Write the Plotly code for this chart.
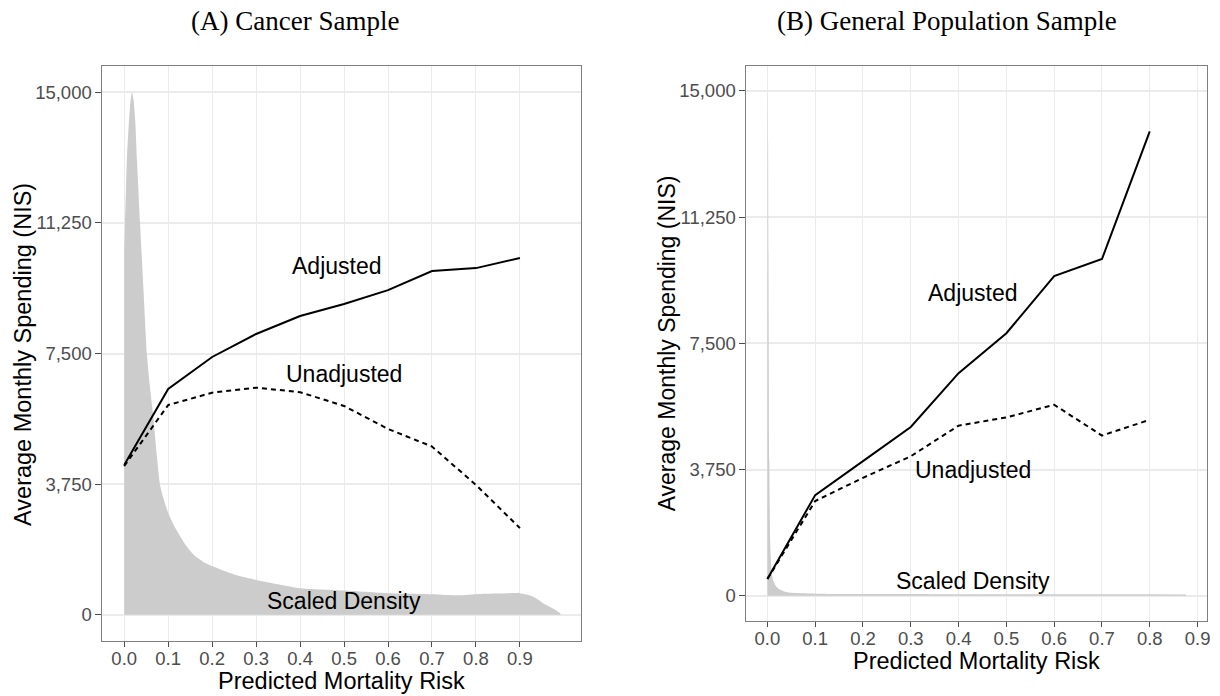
import plotly.graph_objects as go

# ---- data -------------------------------------------------------------
risk_a = [0.0, 0.1, 0.2, 0.3, 0.4, 0.5, 0.6, 0.7, 0.8, 0.9]
adjusted_a = [4300, 6480, 7400, 8060, 8575, 8920, 9320, 9865, 9950, 10240]
unadjusted_a = [4270, 6020, 6375, 6520, 6390, 5995, 5335, 4830, 3730, 2490]

risk_b = [0.0, 0.1, 0.2, 0.3, 0.4, 0.5, 0.6, 0.7, 0.8]
adjusted_b = [495, 2990, 4000, 5015, 6615, 7800, 9500, 10005, 13800]
unadjusted_b = [495, 2815, 3505, 4145, 5055, 5300, 5675, 4760, 5230]

# scaled kernel density of predicted risk (peak rescaled to 15,000)
dens_a_x = [0.0, 0.002, 0.006, 0.01, 0.014, 0.0175, 0.021, 0.025, 0.029, 0.036,
            0.044, 0.0515, 0.058, 0.066, 0.074, 0.081, 0.09, 0.1, 0.115, 0.13,
            0.14, 0.16, 0.18, 0.2, 0.225, 0.25, 0.3, 0.35, 0.4, 0.5, 0.6, 0.7,
            0.76, 0.8, 0.85, 0.9, 0.929, 0.959, 0.975, 0.992]
dens_a_y = [10500, 11250, 13050, 14000, 14700, 15000, 14800, 14200, 13050, 11250,
            9300, 7500, 6600, 5690, 4600, 3760, 3300, 2925, 2520, 2200,
            2000, 1700, 1520, 1400, 1270, 1160, 1004, 880, 765, 697, 622, 593,
            560, 593, 610, 620, 526, 287, 180, 49]

dens_b_x = [0.0, 0.0008, 0.0015, 0.0025, 0.004, 0.006, 0.009, 0.012, 0.018,
            0.025, 0.035, 0.045, 0.06, 0.1, 0.2, 0.4, 0.6, 0.8, 0.876]
dens_b_y = [9000, 15000, 13500, 9000, 4000, 1500, 700, 450, 280,
            190, 130, 100, 80, 60, 50, 45, 45, 42, 40]

x_ticks = [0.0, 0.1, 0.2, 0.3, 0.4, 0.5, 0.6, 0.7, 0.8, 0.9]
x_tick_text = ["0.0", "0.1", "0.2", "0.3", "0.4", "0.5", "0.6", "0.7", "0.8", "0.9"]
y_ticks = [0, 3750, 7500, 11250, 15000]
y_tick_text = ["0", "3,750", "7,500", "11,250", "15,000"]

# ---- figure -----------------------------------------------------------
W, H = 1220, 696
SANS = "Liberation Sans, Arial, sans-serif"
SERIF = "Liberation Serif, Times New Roman, serif"
GRID = "#ebebeb"
BORDER = "#7f7f7f"
DENS = "#cccccc"

fig = go.Figure()

def add_panel(xa, ya, dx, dy, rx, adj, unadj):
    fig.add_trace(go.Scatter(x=dx, y=dy, xaxis=xa, yaxis=ya, mode="lines",
                             line=dict(width=0, color=DENS, shape="spline",
                                       smoothing=0.6),
                             fill="tozeroy", fillcolor=DENS,
                             hoverinfo="skip", showlegend=False))
    fig.add_trace(go.Scatter(x=rx, y=unadj, xaxis=xa, yaxis=ya, mode="lines",
                             line=dict(color="black", width=2, dash="5px,4px"),
                             showlegend=False))
    fig.add_trace(go.Scatter(x=rx, y=adj, xaxis=xa, yaxis=ya, mode="lines",
                             line=dict(color="black", width=2),
                             showlegend=False))

add_panel("x", "y", dens_a_x, dens_a_y, risk_a, adjusted_a, unadjusted_a)
add_panel("x2", "y2", dens_b_x, dens_b_y, risk_b, adjusted_b, unadjusted_b)

def px_x(p):
    return p / W

def px_y(p):
    return 1 - p / H

axis_common = dict(
    showgrid=True, gridcolor=GRID, zeroline=False,
    showline=True, mirror=True, linecolor=BORDER, linewidth=1,
    ticks="outside", tickcolor="#4d4d4d", tickwidth=1,
    tickfont=dict(family=SANS, size=18.5, color="#4d4d4d"),
)

xa_common = dict(axis_common, tickvals=x_ticks, ticktext=x_tick_text,
                 ticklen=5, gridwidth=1, ticklabelstandoff=-4)
ya_common = dict(axis_common, tickvals=y_ticks, ticktext=y_tick_text,
                 ticklen=6, gridwidth=1.5, range=[-750, 15750])

fig.update_layout(
    width=W, height=H,
    margin=dict(l=0, r=0, t=0, b=0),
    paper_bgcolor="white", plot_bgcolor="white",
    showlegend=False,
    xaxis=dict(xa_common, domain=[px_x(102.7), px_x(582.7)],
               range=[-0.0495, 1.0395], anchor="y"),
    yaxis=dict(ya_common, domain=[px_y(641), px_y(66)], anchor="x"),
    xaxis2=dict(xa_common, domain=[px_x(748.3), px_x(1210)],
                range=[-0.0438, 0.9198], anchor="y2"),
    yaxis2=dict(ya_common, domain=[px_y(621), px_y(65.7)], anchor="x2"),
)

ann = []

def label(text, x, y, xref, yref, size, family=SANS, angle=0, color="black"):
    ann.append(dict(text=text, x=x, y=y, xref=xref, yref=yref, showarrow=False,
                    xanchor="center", yanchor="middle", textangle=angle,
                    font=dict(family=family, size=size, color=color)))

# curve labels
label("Adjusted", 0.485, 10000, "x", "y", 23)
label("Unadjusted", 0.50, 6900, "x", "y", 23)
label("Scaled Density", 0.50, 400, "x", "y", 23)
label("Adjusted", 0.43, 9000, "x2", "y2", 23)
label("Unadjusted", 0.43, 3750, "x2", "y2", 23)
label("Scaled Density", 0.43, 430, "x2", "y2", 23)

# axis titles
label("Predicted Mortality Risk", px_x(342.7), px_y(681), "paper", "paper", 23.5)
label("Predicted Mortality Risk", px_x(979.2), px_y(661), "paper", "paper", 23.5)
label("Average Monthly Spending (NIS)", px_x(23), px_y(354), "paper", "paper", 23.5, angle=-90)
label("Average Monthly Spending (NIS)", px_x(669), px_y(343), "paper", "paper", 23, angle=-90)

# panel titles
label("(A) Cancer Sample", px_x(295.5), px_y(21), "paper", "paper", 27, family=SERIF)
label("(B) General Population Sample", px_x(949), px_y(21), "paper", "paper", 27, family=SERIF)

fig.update_layout(annotations=ann)

fig.write_html("out.html")
